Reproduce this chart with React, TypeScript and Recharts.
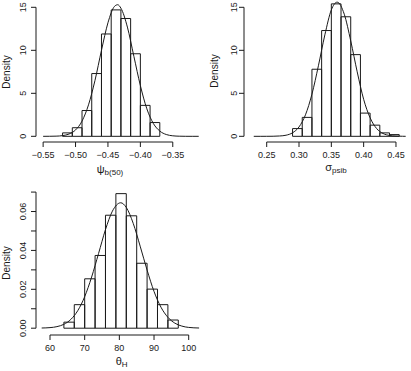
import React from "react";
import {
  ComposedChart,
  Line,
  XAxis,
  YAxis,
  ReferenceArea,
  ReferenceLine,
} from "recharts";

const FONT = "'Liberation Sans', Arial, Helvetica, sans-serif";
const INK = "#1a1a1a";

// ---------------------------------------------------------------------------
// psi_b(50) posterior
// ---------------------------------------------------------------------------

const psiBreaks = [-0.52, -0.505, -0.49, -0.475, -0.46, -0.445, -0.43, -0.415, -0.4, -0.385, -0.37];
const psiDensity = [0.4, 1.0, 3.0, 7.3, 11.9, 14.7, 13.7, 9.6, 3.6, 1.6];
const psiCurveX = [
  -0.55, -0.54, -0.53, -0.52, -0.51, -0.5, -0.49, -0.48, -0.47, -0.46, -0.45, -0.44, -0.435,
  -0.43, -0.42, -0.41, -0.4, -0.39, -0.38, -0.37, -0.36, -0.35, -0.34, -0.33, -0.32, -0.31,
];
const psiCurveY = [
  0, 0.005, 0.02, 0.08, 0.27, 0.74, 1.77, 3.66, 6.5, 10.0, 13.2, 15.1, 15.3,
  14.9, 12.7, 9.3, 5.9, 3.2, 1.5, 0.61, 0.21, 0.06, 0.015, 0.003, 0, 0,
];
const psiTicksX = [-0.55, -0.5, -0.45, -0.4, -0.35];
const psiTicksY = [0, 5, 10, 15];

// ---------------------------------------------------------------------------
// sigma_psib posterior
// ---------------------------------------------------------------------------

const sigmaBreaks = [0.29, 0.305, 0.32, 0.335, 0.35, 0.365, 0.38, 0.395, 0.41, 0.425, 0.44, 0.455];
const sigmaDensity = [0.9, 2.2, 7.8, 12.3, 15.4, 13.9, 9.5, 2.7, 1.3, 0.4, 0.2];
const sigmaCurveX = [
  0.23, 0.24, 0.25, 0.26, 0.27, 0.28, 0.29, 0.3, 0.31, 0.32, 0.33, 0.34, 0.35, 0.359,
  0.37, 0.38, 0.39, 0.4, 0.41, 0.42, 0.43, 0.44, 0.45, 0.46, 0.465,
];
const sigmaCurveY = [
  0, 0, 0.002, 0.01, 0.04, 0.13, 0.41, 1.09, 2.5, 4.9, 8.2, 11.8, 14.7, 15.6,
  14.2, 11.1, 7.5, 4.3, 2.15, 0.91, 0.33, 0.1, 0.03, 0.008, 0,
];
const sigmaTicksX = [0.25, 0.3, 0.35, 0.4, 0.45];
const sigmaTicksY = [0, 5, 10, 15];

// ---------------------------------------------------------------------------
// theta_H posterior
// ---------------------------------------------------------------------------

const thetaBreaks = [64, 67, 70, 73, 76, 79, 82, 85, 88, 91, 94, 97];
const thetaDensity = [0.0031, 0.0121, 0.0254, 0.0374, 0.0581, 0.0692, 0.0578, 0.0334, 0.0201, 0.0121, 0.0042];
const thetaCurveX = [
  57.6, 60, 62, 64, 66, 68, 70, 72, 74, 76, 78, 80.4, 82, 84, 86, 88, 90, 92, 94, 96, 98, 100, 103,
];
const thetaCurveY = [
  0.0001, 0.0003, 0.0008, 0.002, 0.0045, 0.009, 0.0162, 0.0263, 0.0384, 0.0507, 0.0602, 0.0645,
  0.0621, 0.0539, 0.0422, 0.0299, 0.0189, 0.0108, 0.0056, 0.0026, 0.0011, 0.0004, 0.0001,
];
const thetaTicksX = [60, 70, 80, 90, 100];
const thetaTicksY = [0, 0.01, 0.02, 0.03, 0.04, 0.05, 0.06, 0.07];
const thetaLabelsY = [0, 0.02, 0.04, 0.06];

// ---------------------------------------------------------------------------
// Panel
// ---------------------------------------------------------------------------

interface PanelProps {
  left: number;
  top: number;
  width: number;
  height: number;
  margin: { top: number; right: number; bottom: number; left: number };
  yAxisWidth: number;
  xAxisHeight: number;
  xDomain: [number, number];
  yDomain: [number, number];
  xTicks: number[];
  yTicks: number[];
  yLabels: number[];
  breaks: number[];
  density: number[];
  curveX: number[];
  curveY: number[];
  fmtY: (v: number) => string;
  yTickMargin: number;
  densityAt: [number, number];
  xLabel: React.ReactNode;
}

const fmtX = (v: number) => (v < 0 ? "\u2212" + Math.abs(v).toFixed(2) : Number.isInteger(v) ? String(v) : v.toFixed(2));

function HistPanel(p: PanelProps) {
  const data = p.curveX.map((x, i) => ({ x, y: p.curveY[i] }));
  const [dx, dy] = p.densityAt;

  const yTick = (t: any) => {
    if (!p.yLabels.includes(t.payload.value)) return <g />;
    return (
      <text
        x={t.x}
        y={t.y}
        transform={`rotate(-90 ${t.x} ${t.y})`}
        textAnchor="middle"
        fontSize={9}
        fontFamily={FONT}
        fill={INK}
      >
        {p.fmtY(t.payload.value)}
      </text>
    );
  };

  return (
    <div style={{ position: "absolute", left: p.left, top: p.top }}>
      <ComposedChart width={p.width} height={p.height} margin={p.margin} data={data}>
        <XAxis
          dataKey="x"
          type="number"
          domain={p.xDomain}
          ticks={p.xTicks}
          interval={0}
          allowDataOverflow
          axisLine={false}
          tickSize={5}
          tickMargin={5}
          tickLine={{ stroke: INK }}
          tick={{ fill: INK, fontSize: 9, fontFamily: FONT }}
          tickFormatter={fmtX}
          height={p.xAxisHeight}
          label={{ content: () => p.xLabel }}
        />
        <YAxis
          type="number"
          domain={p.yDomain}
          ticks={p.yTicks}
          interval={0}
          allowDataOverflow
          axisLine={false}
          width={p.yAxisWidth}
          tickSize={5}
          tickMargin={p.yTickMargin}
          tickLine={{ stroke: INK }}
          tick={yTick}
          label={{
            content: () => (
              <text
                x={dx}
                y={dy}
                transform={`rotate(-90 ${dx} ${dy})`}
                textAnchor="middle"
                fontSize={10}
                fontFamily={FONT}
                fill={INK}
              >
                Density
              </text>
            ),
          }}
        />
        {p.density.map((d, i) => (
          <ReferenceArea
            key={i}
            x1={p.breaks[i]}
            x2={p.breaks[i + 1]}
            y1={0}
            y2={d}
            fill="none"
            fillOpacity={0}
            stroke={INK}
            strokeWidth={1}
            ifOverflow="visible"
          />
        ))}
        <ReferenceLine
          segment={[
            { x: p.xTicks[0], y: p.yDomain[0] },
            { x: p.xTicks[p.xTicks.length - 1], y: p.yDomain[0] },
          ]}
          stroke={INK}
          ifOverflow="visible"
        />
        <ReferenceLine
          segment={[
            { x: p.xDomain[0], y: p.yTicks[0] },
            { x: p.xDomain[0], y: p.yTicks[p.yTicks.length - 1] },
          ]}
          stroke={INK}
          ifOverflow="visible"
        />
        <Line
          dataKey="y"
          type="monotone"
          dot={false}
          activeDot={false}
          stroke={INK}
          strokeWidth={1}
          isAnimationActive={false}
        />
      </ComposedChart>
    </div>
  );
}

export default function App() {
  return (
    <div style={{ position: "absolute", left: 0, top: 0, width: 411, height: 371, background: "#fff" }}>
      <HistPanel
        left={0}
        top={0}
        width={205}
        height={185}
        margin={{ top: 0, right: 5, bottom: 0, left: 0 }}
        yAxisWidth={36}
        xAxisHeight={43}
        xDomain={[-0.561, -0.308]}
        yDomain={[-0.66, 15.85]}
        xTicks={psiTicksX}
        yTicks={psiTicksY}
        yLabels={psiTicksY}
        breaks={psiBreaks}
        density={psiDensity}
        curveX={psiCurveX}
        curveY={psiCurveY}
        fmtY={(v) => String(v)}
        yTickMargin={5}
        densityAt={[10, 72]}
        xLabel={
          <text x={110} y={173} textAnchor="middle" fontFamily={FONT} fill={INK}>
            <tspan fontSize={11}>ψ</tspan>
            <tspan fontSize={8} dy={2}>b(50)</tspan>
          </text>
        }
      />
      <HistPanel
        left={205}
        top={0}
        width={206}
        height={185}
        margin={{ top: 0, right: 3, bottom: 0, left: 0 }}
        yAxisWidth={39}
        xAxisHeight={43}
        xDomain={[0.2149, 0.4686]}
        yDomain={[-0.66, 15.85]}
        xTicks={sigmaTicksX}
        yTicks={sigmaTicksY}
        yLabels={sigmaTicksY}
        breaks={sigmaBreaks}
        density={sigmaDensity}
        curveX={sigmaCurveX}
        curveY={sigmaCurveY}
        fmtY={(v) => String(v)}
        yTickMargin={2}
        densityAt={[13, 71]}
        xLabel={
          <text x={131} y={170.5} textAnchor="middle" fontFamily={FONT} fill={INK}>
            <tspan fontSize={11}>σ</tspan>
            <tspan fontSize={8} dy={2}>psib</tspan>
          </text>
        }
      />
      <HistPanel
        left={0}
        top={185}
        width={205}
        height={186}
        margin={{ top: 3, right: 5, bottom: 0, left: 0 }}
        yAxisWidth={36}
        xAxisHeight={36}
        xDomain={[55.96, 103.26]}
        yDomain={[-0.0035, 0.0721]}
        xTicks={thetaTicksX}
        yTicks={thetaTicksY}
        yLabels={thetaLabelsY}
        breaks={thetaBreaks}
        density={thetaDensity}
        curveX={thetaCurveX}
        curveY={thetaCurveY}
        fmtY={(v) => v.toFixed(2)}
        yTickMargin={5}
        densityAt={[10, 78]}
        xLabel={
          <text x={121.7} y={180} textAnchor="middle" fontFamily={FONT} fill={INK}>
            <tspan fontSize={11}>θ</tspan>
            <tspan fontSize={8} dy={1.5}>H</tspan>
          </text>
        }
      />
    </div>
  );
}
